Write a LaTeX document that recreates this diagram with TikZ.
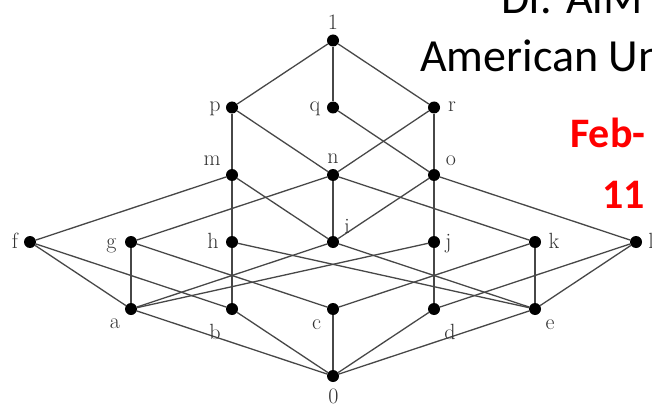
\documentclass[tikz,border=0pt]{standalone}
\usepackage{fontspec}
\newfontfamily\slidefont{Carlito}
\begin{document}
\begin{tikzpicture}[x=1pt,y=-1pt,
  vdot/.style={circle,fill=black,draw=none,inner sep=0pt,minimum size=12pt},
  lbl/.style={anchor=base,inner sep=0pt,font=\fontsize{22}{22}\selectfont,text=black!80},
  link/.style={draw=black!72,line width=1.3pt},
  slide/.style={anchor=base west,inner sep=0pt,font=\slidefont\fontsize{46}{46}\selectfont},
  datetext/.style={anchor=base west,inner sep=0pt,text=red,font=\slidefont\bfseries\fontsize{42}{42}\selectfont}]
\clip (0,0) rectangle (652,406);
\fill[white] (0,0) rectangle (652,406);
% vertices
\node[vdot] (v1) at (333,40.5) {};
\node[vdot] (vp) at (232,107.5) {};
\node[vdot] (vq) at (333,107.5) {};
\node[vdot] (vr) at (434,107.5) {};
\node[vdot] (vm) at (232,175) {};
\node[vdot] (vn) at (333,175) {};
\node[vdot] (vo) at (434,175) {};
\node[vdot] (vf) at (30,242) {};
\node[vdot] (vg) at (131,242) {};
\node[vdot] (vh) at (232,242) {};
\node[vdot] (vi) at (333,242) {};
\node[vdot] (vj) at (434,242) {};
\node[vdot] (vk) at (535,242) {};
\node[vdot] (vl) at (636,242) {};
\node[vdot] (va) at (131,309) {};
\node[vdot] (vb) at (232,309) {};
\node[vdot] (vc) at (333,309) {};
\node[vdot] (vd) at (434,309) {};
\node[vdot] (ve) at (535,309) {};
\node[vdot] (v0) at (333,376) {};
% edges
\foreach \u/\w in {v1/vp,v1/vq,v1/vr,
  vp/vm,vp/vn,vq/vo,vr/vn,vr/vo,
  vm/vf,vm/vh,vm/vi,vn/vg,vn/vi,vn/vk,vo/vi,vo/vj,vo/vl,
  vf/va,vf/vb,vg/va,vg/vc,vh/vb,vh/ve,vi/va,vi/ve,vj/va,vj/vd,vk/vc,vk/ve,vl/vd,vl/ve,
  va/v0,vb/v0,vc/v0,vd/v0,ve/v0}
  \draw[link] (\u) -- (\w);
% labels
\node[lbl] (t1) at (333,30) {1};
\node[lbl] (tp) at (215,112) {p};
\node[lbl] (tq) at (315,112) {q};
\node[lbl] (tr) at (452,112) {r};
\node[lbl] (tm) at (212,165) {m};
\node[lbl] (tn) at (333,164) {n};
\node[lbl] (to) at (451,165) {o};
\node[lbl] (tf) at (15,248) {f};
\node[lbl] (tg) at (111.5,248) {g};
\node[lbl] (th) at (213,248) {h};
\node[lbl] (ti) at (347,233) {i};
\node[lbl] (tj) at (448.5,248) {j};
\node[lbl] (tk) at (554,248) {k};
\node[lbl] (tl) at (651,248) {l};
\node[lbl] (ta) at (115,328) {a};
\node[lbl] (tb) at (215,339) {b};
\node[lbl] (tc) at (316.5,329) {c};
\node[lbl] (td) at (450,339) {d};
\node[lbl] (te) at (550,329) {e};
\node[lbl] (t0) at (333.5,403) {0};
% slide overlay text (cut off at the edges, as in the reference)
\node[slide] (s1) at (501,13.5) {Dr. AlM};
\node[slide] (s2) at (420,72) {American Un};
\node[datetext] (s3) at (570,148) {Feb-};
\node[datetext] (s4) at (602,208) {11};
\end{tikzpicture}
\end{document}
